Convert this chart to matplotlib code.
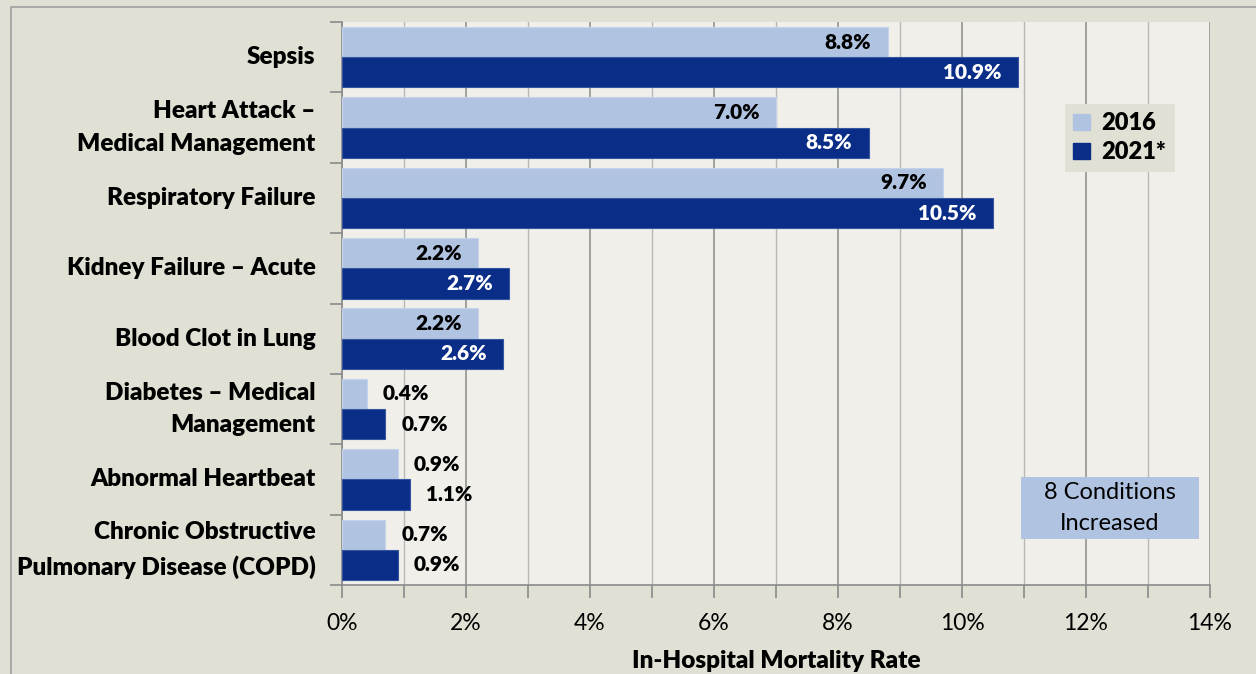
import matplotlib
matplotlib.use("Agg")
import matplotlib.pyplot as plt
from matplotlib.ticker import MultipleLocator, FuncFormatter
from matplotlib.patches import Patch, Rectangle
import numpy as np

categories = ["Sepsis", "Heart Attack –\nMedical Management", "Respiratory Failure",
              "Kidney Failure – Acute", "Blood Clot in Lung",
              "Diabetes – Medical\nManagement", "Abnormal Heartbeat",
              "Chronic Obstructive\nPulmonary Disease (COPD)"]
rate_2016 = [8.8, 7.0, 9.7, 2.2, 2.2, 0.4, 0.9, 0.7]
rate_2021 = [10.9, 8.5, 10.5, 2.7, 2.6, 0.7, 1.1, 0.9]
series_names = ["2016", "2021*"]
x_label = "In-Hospital Mortality Rate"
note_text = "8 Conditions\nIncreased"

FONT = "Lato"
LIGHT = "#b0c4e2"
DARK = "#0a2d87"
FIG_BG = "#e1e0d4"
AX_BG = "#f0efea"

plt.rcParams['font.family'] = [FONT, 'DejaVu Sans']

fig = plt.figure(figsize=(12.56, 6.74), dpi=100, facecolor=FIG_BG)
W, H = 1256, 674
ax = fig.add_axes([342 / W, 1 - 585 / H, (1210 - 342) / W, (585 - 22) / H])
ax.set_facecolor(AX_BG)

# outer border
fig.add_artist(Rectangle((11 / W, -0.01), 1.2, 1 - 7 / H + 0.01, transform=fig.transFigure,
                         fill=False, edgecolor="#a0a0a0", lw=1.2))

n = len(categories)
y = np.arange(n)
h = 0.43
ax.barh(y - h / 2, rate_2016, height=h, color=LIGHT, edgecolor="#c4d3ea", lw=0.8, zorder=3)
ax.barh(y + h / 2, rate_2021, height=h, color=DARK, edgecolor="#3655a0", lw=0.8, zorder=3)

ax.set_xlim(0, 14)
ax.set_ylim(n - 0.5, -0.5)
ax.xaxis.set_major_locator(MultipleLocator(2))
ax.xaxis.set_minor_locator(MultipleLocator(1))
ax.xaxis.set_major_formatter(FuncFormatter(lambda v, p: f"{v:.0f}%"))
ax.grid(axis="x", which="major", color="#9a9a9a", lw=1.3, zorder=1)
ax.grid(axis="x", which="minor", color="#b8b8b8", lw=1.0, zorder=1)
ax.tick_params(axis="x", which="both", length=9, color="#8a8a8a", width=1.2,
               labelsize=16.5, pad=11, labelcolor="black")
for s in ["top", "right"]:
    ax.spines[s].set_visible(False)
ax.spines["left"].set_color("#8a8a8a")
ax.spines["bottom"].set_color("#8a8a8a")
ax.spines["left"].set_linewidth(1.2)
ax.spines["bottom"].set_linewidth(1.2)

# y ticks at boundaries, labels at centers
ax.set_yticks(np.arange(n + 1) - 0.5)
ax.set_yticklabels([])
ax.tick_params(axis="y", which="major", length=9, color="#8a8a8a", width=1.2)
ax.set_yticks(y, minor=True)
ax.set_yticklabels(categories, minor=True, fontsize=17.5, fontweight="heavy",
                   linespacing=1.6, va="center")
ax.tick_params(axis="y", which="minor", length=0, pad=19)
for lbl in ax.get_yticklabels(minor=True):
    lbl.set_y(lbl.get_position()[1])

ax.set_xlabel(x_label, fontsize=17.5, fontweight="heavy", labelpad=12)

# value labels
for vals, yy, inside_color in [(rate_2016, y - h / 2, "black"), (rate_2021, y + h / 2, "white")]:
    for v, yc in zip(vals, yy):
        txt = f"{v:.1f}%"
        if v >= 2:
            ax.annotate(txt, (v, yc), xytext=(-12, 0), textcoords="offset points",
                        ha="right", va="center", fontsize=15, fontweight="heavy",
                        color=inside_color, zorder=4)
        else:
            ax.annotate(txt, (v, yc), xytext=(11.5, 0), textcoords="offset points",
                        ha="left", va="center", fontsize=15, fontweight="heavy",
                        color="black", zorder=4)

leg = ax.legend([Patch(color=LIGHT), Patch(color=DARK)], series_names,
                loc="upper left", bbox_to_anchor=((1065 - 342) / 868, 1 - (104 - 22) / 563),
                frameon=True, fancybox=False, facecolor=FIG_BG, edgecolor="none", framealpha=1,
                prop={"family": FONT, "weight": "heavy", "size": 17},
                handlelength=0.7, handleheight=0.7, handletextpad=0.5, labelspacing=0.3,
                borderpad=0.35, borderaxespad=0)

# note box (annotation, in axes fraction)
bx0, bx1 = (1021 - 342) / 868, (1199 - 342) / 868
by0, by1 = 1 - (539 - 22) / 563, 1 - (477 - 22) / 563
ax.add_patch(Rectangle((bx0, by0), bx1 - bx0, by1 - by0, transform=ax.transAxes,
                       facecolor=LIGHT, edgecolor="none", zorder=5))
ax.text((bx0 + bx1) / 2, (by0 + by1) / 2, note_text, transform=ax.transAxes,
        ha="center", va="center", fontsize=17, linespacing=1.55, zorder=6)

fig.savefig("out.png", dpi=100, facecolor=FIG_BG)
